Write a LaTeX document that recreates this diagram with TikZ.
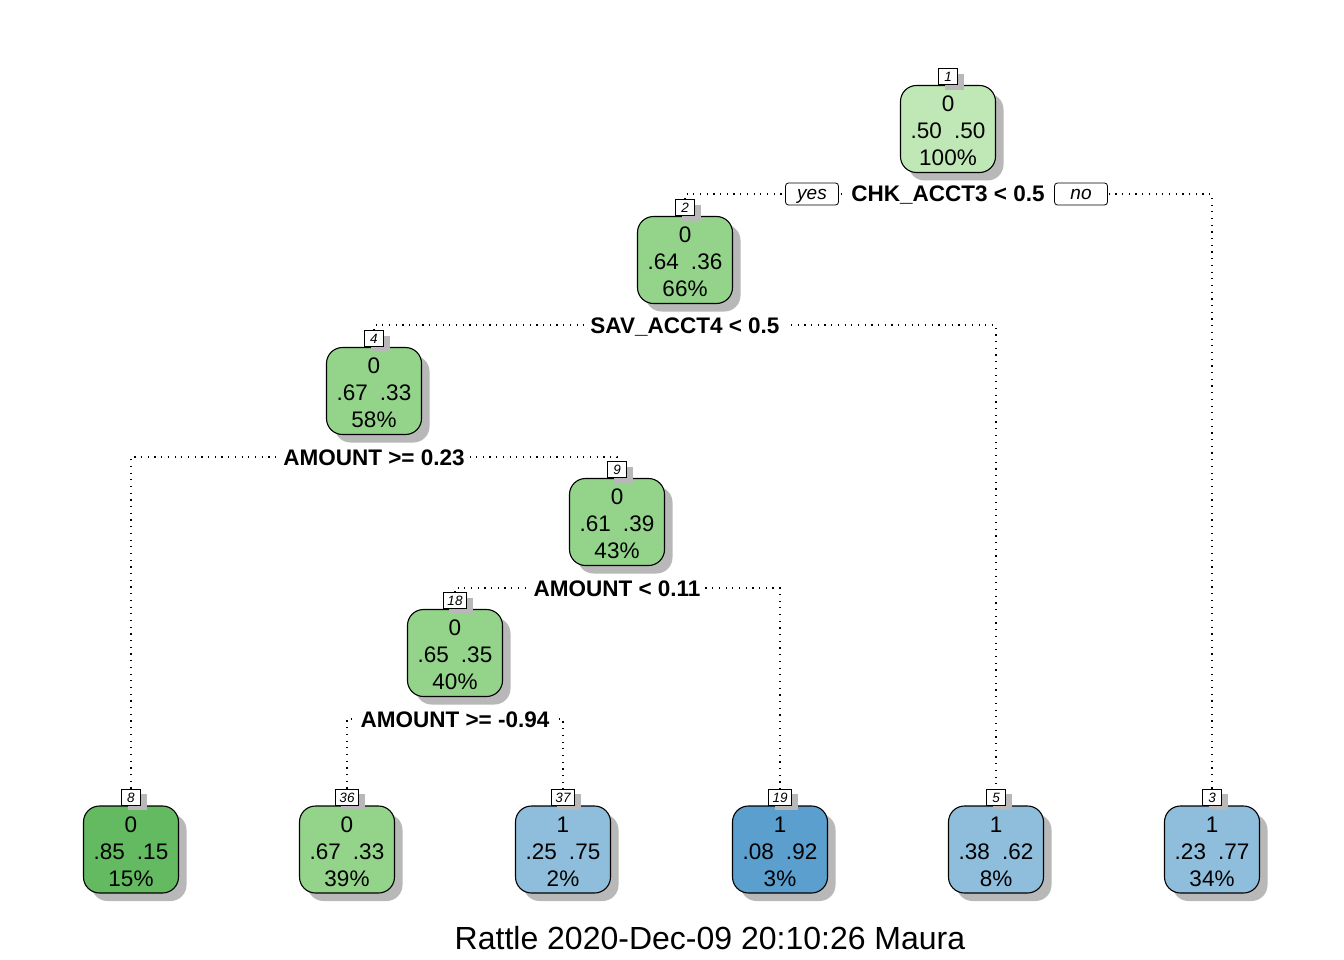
\documentclass[tikz,border=0pt]{standalone}
\usepackage{fontspec}
\setmainfont{Liberation Sans}
\usetikzlibrary{shadows}
\definecolor{gA}{HTML}{C0E8B6}
\definecolor{gB}{HTML}{93D38A}
\definecolor{gC}{HTML}{63BA60}
\definecolor{bA}{HTML}{8FBEDC}
\definecolor{bB}{HTML}{5A9FCD}
\definecolor{shd}{HTML}{B8B8B8}
\newcommand{\gp}{\hspace{12pt}}
\newcommand{\fl}{\rule{0pt}{20pt}}
\tikzset{
  box/.style={draw=black, line width=1.1pt, rounded corners=16pt,
    minimum width=95pt, minimum height=87pt, align=center, inner sep=0pt,
    font=\fontsize{22.5}{27}\selectfont,
    drop shadow={shadow xshift=8pt, shadow yshift=-8pt, fill=shd, opacity=1}},
  numlab/.style={draw=black, line width=0.8pt, fill=white, inner xsep=4pt, inner ysep=0pt,
    minimum width=19pt, minimum height=16pt, text height=10pt, text depth=0pt,
    font=\fontsize{13.5}{15}\selectfont\itshape,
    drop shadow={shadow xshift=6pt, shadow yshift=-5pt, fill=shd, opacity=1}},
  split/.style={fill=white, inner xsep=5pt, inner ysep=0pt, text height=16pt, text depth=0pt,
    font=\fontsize{22.5}{27}\selectfont\bfseries},
  yn/.style={draw=black, line width=0.8pt, rounded corners=3pt, fill=white,
    minimum width=53pt, minimum height=22pt, inner sep=0pt, text height=12pt, text depth=0pt,
    font=\fontsize{19}{22}\selectfont\itshape},
  dotline/.style={line width=1.1pt, dash pattern=on 1.2pt off 5.5pt}
}
\begin{document}
\begin{tikzpicture}[x=1pt,y=-1pt]
\useasboundingbox[fill=white] (0,0) rectangle (1344,960);

% inner nodes
\node[box,fill=gA] (n1)  at (948,129) {\fl0\\.50\gp.50\\100\%};
\node[box,fill=gB] (n2)  at (685,260) {\fl0\\.64\gp.36\\66\%};
\node[box,fill=gB] (n4)  at (374,391) {\fl0\\.67\gp.33\\58\%};
\node[box,fill=gB] (n9)  at (617,522) {\fl0\\.61\gp.39\\43\%};
\node[box,fill=gB] (n18) at (455,653) {\fl0\\.65\gp.35\\40\%};
% leaves
\node[box,fill=gC] (n8)  at (131,849.5)  {\fl0\\.85\gp.15\\15\%};
\node[box,fill=gB] (n36) at (347,849.5)  {\fl0\\.67\gp.33\\39\%};
\node[box,fill=bA] (n37) at (563,849.5)  {\fl1\\.25\gp.75\\2\%};
\node[box,fill=bB] (n19) at (780,849.5)  {\fl1\\.08\gp.92\\3\%};
\node[box,fill=bA] (n5)  at (996,849.5)  {\fl1\\.38\gp.62\\8\%};
\node[box,fill=bA] (n3)  at (1212,849.5) {\fl1\\.23\gp.77\\34\%};

% node number labels
\node[numlab,anchor=south] (l1)  at (n1.north)  {1};
\node[numlab,anchor=south] (l2)  at (n2.north)  {2};
\node[numlab,anchor=south] (l4)  at (n4.north)  {4};
\node[numlab,anchor=south] (l9)  at (n9.north)  {9};
\node[numlab,anchor=south] (l18) at (n18.north) {18};
\node[numlab,anchor=south] (l8)  at (n8.north)  {8};
\node[numlab,anchor=south] (l36) at (n36.north) {36};
\node[numlab,anchor=south] (l37) at (n37.north) {37};
\node[numlab,anchor=south] (l19) at (n19.north) {19};
\node[numlab,anchor=south] (l5)  at (n5.north)  {5};
\node[numlab,anchor=south] (l3)  at (n3.north)  {3};

% split junctions
\coordinate (j1)  at (948,194);
\coordinate (j2)  at (685,325);
\coordinate (j4)  at (374,457);
\coordinate (j9)  at (617,588);
\coordinate (j18) at (455,719);

% connectors
\draw[dotline] (l2.north)  |- (j1)  -| (l3.north);
\draw[dotline] (l4.north)  |- (j2)  -| (l5.north);
\draw[dotline] (l8.north)  |- (j4)  -| (l9.north);
\draw[dotline] (l18.north) |- (j9)  -| (l19.north);
\draw[dotline] (l36.north) |- (j18) -| (l37.north);

% split labels
\node[split] (s1)  at (j1)  {CHK\_ACCT3 < 0.5};
\node[split] (s2)  at (j2)  {SAV\_ACCT4 < 0.5};
\node[split] (s4)  at (j4)  {AMOUNT >= 0.23};
\node[split] (s9)  at (j9)  {AMOUNT < 0.11};
\node[split] (s18) at (j18) {AMOUNT >= -0.94};

% yes / no
\node[yn] (yes) at (812,194) {yes};
\node[yn] (no)  at (1081,194) {no};

% footer
\node[anchor=base, inner sep=0pt, font=\fontsize{32}{38}\selectfont] (foot) at (710,949)
  {Rattle 2020-Dec-09 20:10:26 Maura};
\end{tikzpicture}
\end{document}
